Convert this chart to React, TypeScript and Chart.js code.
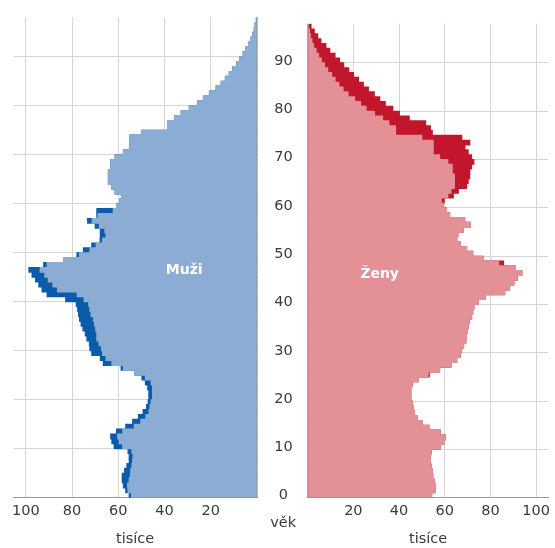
import { useEffect, useRef } from 'react';
import { Chart, registerables } from 'chart.js';

Chart.register(...registerables);

// Population by single year of age (0..97), thousands
const menThousands = [
  55.5, 57, 58, 58.5, 58.5, 57.5, 56.5, 55.5, 55.5, 56,
  62, 63, 63.5, 61, 57, 54, 51.5, 49.5, 48, 47.3,
  47, 47, 47.5, 48.5, 50, 53, 59, 66.7, 68, 71.7,
  72.5, 72.7, 73.8, 74.5, 75.5, 76.3, 77, 77.4, 77.8, 78.4,
  83, 91, 93.2, 94.6, 96, 97.5, 98.9, 92.5, 83.9, 78.1,
  75.3, 71.7, 68.1, 68, 68, 70.2, 73.5, 69.5, 69.5, 61,
  59.5, 58.7, 61.6, 63, 64.5, 64.5, 64.5, 63.5, 63.5, 61.6,
  58, 55.2, 55.2, 55.2, 50.2, 38.7, 38.7, 35.8, 33, 29.5,
  25.8, 23.4, 20.8, 17.9, 15.7, 13.9, 12.2, 10.7, 9, 7.6,
  6.2, 5, 3.9, 2.8, 2.1, 1.4, 1.0, 0.5,
];

const womenThousands = [
  54.5, 56, 56.2, 55.5, 55, 54.8, 54.3, 54, 53.8, 54.3,
  58.3, 59.8, 60.5, 58.3, 53.3, 50.5, 48.3, 46.9, 46.5, 46,
  45.4, 45.4, 45.4, 46, 48.5, 53.5, 58, 63, 65.5, 67,
  67.5, 68.5, 69.5, 69.5, 70, 70.5, 71, 72, 72.5, 73,
  75, 78, 86.5, 88.5, 90.5, 92, 94, 91, 86, 77,
  72.5, 69.8, 67, 65.5, 66, 68.4, 71.5, 69, 62.4, 61,
  59.5, 60, 64, 66.2, 69.8, 70.5, 71.2, 71.2, 72, 73,
  72, 70.5, 69.1, 71.2, 67.7, 54.8, 54, 51.9, 44.7, 40.4,
  37.5, 34.2, 31.8, 29.4, 26.8, 24.6, 22.5, 20.3, 18.2, 16,
  14.2, 12.2, 9.9, 8.2, 6, 4.6, 3.1, 1.7,
];

const sideLabels = ['Muži', 'Ženy'];
const xAxisTitle = 'tisíce';
const yAxisTitle = 'věk';

const LIGHT_BLUE = '#8badd4';
const DARK_BLUE = '#0a5cab';
const LIGHT_RED = '#e39096';
const DARK_RED = '#c1162b';
const GRID = '#d4d4d4';
const AXIS = '#9a9a9a';
const TEXT = '#3a3a3a';
const FONT = 'DejaVu Sans';

const X_MAX = 105.4;
const Y_MAX = 98.1;

const ages = menThousands.map((_, i) => i);

function overlayPlugin(label: string, withAgeTitle: boolean) {
  return {
    id: 'overlay',
    afterDatasetsDraw(chart: any) {
      const { ctx, chartArea, scales } = chart;
      ctx.save();
      ctx.strokeStyle = AXIS;
      ctx.lineWidth = 1;
      const x0 = scales.x.getPixelForValue(0);
      ctx.beginPath();
      ctx.moveTo(x0, chartArea.top);
      ctx.lineTo(x0, chartArea.bottom);
      ctx.stroke();
      ctx.fillStyle = '#ffffff';
      ctx.font = `bold 14px "${FONT}"`;
      ctx.textAlign = 'center';
      ctx.textBaseline = 'middle';
      ctx.fillText(label, scales.x.getPixelForValue(31.5), scales.y.getPixelForValue(46.3));
      if (withAgeTitle) {
        ctx.fillStyle = TEXT;
        ctx.font = `14.5px "${FONT}"`;
        ctx.textBaseline = 'alphabetic';
        ctx.fillText(yAxisTitle, chartArea.left - 24.5, chartArea.bottom + 29);
      }
      ctx.restore();
    },
  };
}

function makeConfig(isLeft: boolean): any {
  const total = isLeft ? menThousands : womenThousands;
  const light = ages.map((a) => ({ x: Math.min(menThousands[a], womenThousands[a]), y: a + 0.5 }));
  const dark = ages.map((a) => ({ x: total[a], y: a + 0.5 }));
  const common = {
    grouped: false,
    categoryPercentage: 1,
    barPercentage: 1.2,
    borderWidth: 0,
  };
  const tickFont = { family: FONT, size: 14.5 };
  return {
    type: 'bar',
    data: {
      datasets: [
        { ...common, label: 'light', data: light, backgroundColor: isLeft ? LIGHT_BLUE : LIGHT_RED },
        { ...common, label: 'dark', data: dark, backgroundColor: isLeft ? DARK_BLUE : DARK_RED },
      ],
    },
    options: {
      indexAxis: 'y',
      animation: false,
      responsive: false,
      events: [],
      layout: {
        padding: isLeft
          ? { left: 13.3, right: 3.7, top: 17, bottom: 0 }
          : { left: 0, right: 2.3, top: 17, bottom: 0 },
      },
      plugins: {
        legend: { display: false },
        tooltip: { enabled: false },
      },
      scales: {
        x: {
          type: 'linear',
          reverse: isLeft,
          min: 0,
          max: X_MAX,
          grid: { color: GRID, drawTicks: false },
          border: { display: true, color: AXIS },
          ticks: {
            stepSize: 20,
            includeBounds: false,
            padding: 5,
            color: TEXT,
            font: tickFont,
            callback: (v: number) => (v === 0 ? '' : String(v)),
          },
          title: {
            display: true,
            text: xAxisTitle,
            color: TEXT,
            font: tickFont,
            padding: { top: 2, bottom: 0 },
          },
          afterFit: (s: any) => {
            s.height = 50.3;
          },
        },
        y: {
          type: 'linear',
          position: isLeft ? 'right' : 'left',
          min: 0,
          max: Y_MAX,
          offset: false,
          grid: { color: GRID, drawTicks: false, offset: false },
          border: { display: false },
          ticks: isLeft
            ? { display: false, stepSize: 10, includeBounds: false }
            : {
                display: true,
                stepSize: 10,
                includeBounds: false,
                crossAlign: 'center',
                padding: 15,
                labelOffset: -2,
                color: TEXT,
                font: tickFont,
              },
          afterFit: isLeft
            ? undefined
            : (s: any) => {
                s.width = 45.7;
              },
        },
      },
    },
    plugins: [overlayPlugin(isLeft ? sideLabels[0] : sideLabels[1], !isLeft)],
  };
}

export default function App() {
  const leftRef = useRef<HTMLCanvasElement>(null);
  const rightRef = useRef<HTMLCanvasElement>(null);

  useEffect(() => {
    Chart.defaults.font.family = FONT;
    const left = new Chart(leftRef.current as HTMLCanvasElement, makeConfig(true));
    const right = new Chart(rightRef.current as HTMLCanvasElement, makeConfig(false));
    return () => {
      left.destroy();
      right.destroy();
    };
  }, []);

  return (
    <div style={{ position: 'fixed', left: 0, top: 0, width: 555, height: 548, background: '#fff' }}>
      <canvas
        ref={leftRef}
        width={262}
        height={548}
        style={{ position: 'absolute', left: 0, top: 0, width: 262, height: 548 }}
      />
      <canvas
        ref={rightRef}
        width={293}
        height={548}
        style={{ position: 'absolute', left: 262, top: 0, width: 293, height: 548 }}
      />
    </div>
  );
}
